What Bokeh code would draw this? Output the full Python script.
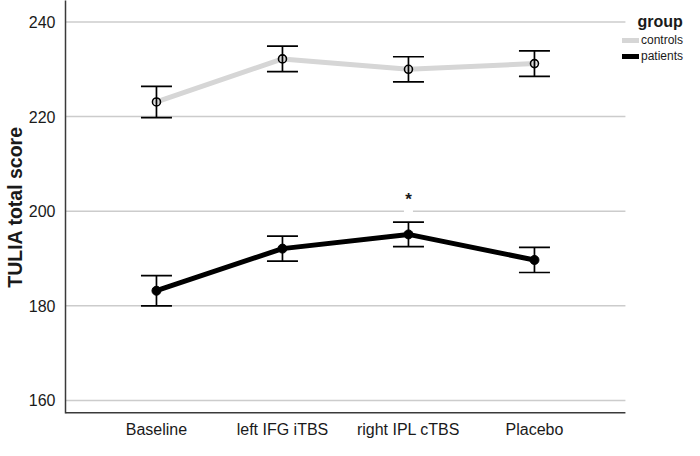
from bokeh.plotting import figure
from bokeh.models import (ColumnDataSource, Whisker, TeeHead, Legend, LegendItem,
                          Label, Range1d, FixedTicker)
from bokeh.core.properties import value
from bokeh.embed import file_html
from bokeh.resources import INLINE

categories = ["Baseline", "left IFG iTBS", "right IPL cTBS", "Placebo"]
controls_mean = [223.1, 232.2, 230.0, 231.2]
controls_err = [3.3, 2.7, 2.65, 2.7]
patients_mean = [183.2, 192.1, 195.1, 189.7]
patients_err = [3.2, 2.65, 2.6, 2.65]
y_ticks = [160, 180, 200, 220, 240]
sig_categories = ["right IPL cTBS"]
legend_title = "group"
group_labels = ["controls", "patients"]

FONT = "Liberation Sans"
FRAME_BOTTOM = 413   # canvas y of the x axis
PAD = 0.722          # category padding at each end of the plot area

xi = list(range(len(categories)))
x_lo = xi[0] - PAD
x_hi = xi[-1] + PAD

p = figure(x_range=Range1d(x_lo, x_lo + 620 / 126.2),
           y_range=Range1d(157.25, 244.54),
           width=684, height=440, output_backend="svg", toolbar_location=None,
           min_border_left=64, min_border_right=0, min_border_top=0, min_border_bottom=20)

p.outline_line_color = None
p.border_fill_color = "white"
p.background_fill_color = "white"
p.xgrid.grid_line_color = None
p.ygrid.grid_line_color = None
p.yaxis.ticker = FixedTicker(ticks=y_ticks)
p.xaxis.ticker = FixedTicker(ticks=xi)
p.xaxis.major_label_overrides = {i: c for i, c in zip(xi, categories)}

for ax in (p.xaxis, p.yaxis):
    ax.axis_line_color = "#3a3a3a"
    ax.axis_line_width = 1.5
    ax.major_tick_line_color = None
    ax.minor_tick_line_color = None
    ax.major_label_text_font = FONT
    ax.major_label_text_font_size = "16px"
    ax.major_label_text_color = "#1a1a1a"
p.xaxis.axis_line_color = None
p.xaxis.major_label_standoff = 1
p.yaxis.major_label_standoff = 4
p.yaxis.axis_label = "TULIA total score"
p.yaxis.axis_label_text_font = FONT
p.yaxis.axis_label_text_font_style = "bold"
p.yaxis.axis_label_text_font_size = "19.5px"
p.yaxis.axis_label_text_color = "#1a1a1a"
p.yaxis.axis_label_standoff = 0

# horizontal grid lines and the bottom axis line, limited to the plot area
p.segment(x0=[x_lo] * len(y_ticks), x1=[x_hi] * len(y_ticks), y0=y_ticks, y1=y_ticks,
          line_color="#cccccc", line_width=1.5)
p.segment(x0=[x_lo], x1=[x_hi], y0=[p.y_range.start], y1=[p.y_range.start],
          line_color="#3a3a3a", line_width=3)

def src(means, errs):
    return ColumnDataSource(dict(
        x=xi, y=means,
        lo=[m - e for m, e in zip(means, errs)],
        hi=[m + e for m, e in zip(means, errs)]))

cs = src(controls_mean, controls_err)
ps = src(patients_mean, patients_err)

lc = p.line("x", "y", source=cs, line_color="#d6d6d6", line_width=5, line_cap="round", line_join="round")
lp = p.line("x", "y", source=ps, line_color="black", line_width=5, line_cap="round", line_join="round")

for s in (cs, ps):
    w = Whisker(base="x", upper="hi", lower="lo", source=s, level="glyph",
                line_color="black", line_width=1.7,
                upper_head=TeeHead(size=31, line_color="black", line_width=1.7),
                lower_head=TeeHead(size=31, line_color="black", line_width=1.7))
    p.add_layout(w)

p.scatter("x", "y", source=cs, size=8, marker="circle", fill_color=None,
          line_color="black", line_width=1.6)
p.scatter("x", "y", source=ps, size=9, marker="circle", fill_color="black",
          line_color="black")

sig_idx = [categories.index(c) for c in sig_categories]
sig_src = ColumnDataSource(dict(x=[xi[i] for i in sig_idx],
                                y=[patients_mean[i] + patients_err[i] for i in sig_idx],
                                g=[200 for _ in sig_idx]))
p.rect(x="x", y="g", source=sig_src, width=9, height=3, width_units="screen",
       height_units="screen", fill_color="white", line_color=None)
p.text(x="x", y="y", source=sig_src, text=value("*"), text_font=value(FONT),
       text_font_style="bold", text_font_size="17px", text_align="center",
       text_baseline="middle", y_offset=-23, text_color="#1a1a1a")

legend = Legend(items=[LegendItem(label=group_labels[0], renderers=[lc]),
                       LegendItem(label=group_labels[1], renderers=[lp])],
                location=(557, FRAME_BOTTOM - 64), padding=0, margin=0, spacing=0,
                glyph_width=17, glyph_height=16, label_height=16, label_standoff=2,
                label_text_font=FONT, label_text_font_size="12px",
                label_text_color="#1a1a1a",
                border_line_color=None, background_fill_alpha=0)
p.add_layout(legend)

p.add_layout(Label(x=572, y=FRAME_BOTTOM - 21, x_units="screen", y_units="screen",
                   text=legend_title, text_font=FONT, text_font_style="bold",
                   text_font_size="16px", text_color="#1a1a1a",
                   text_baseline="alphabetic"))

open("out.html", "w").write(file_html(p, INLINE))
